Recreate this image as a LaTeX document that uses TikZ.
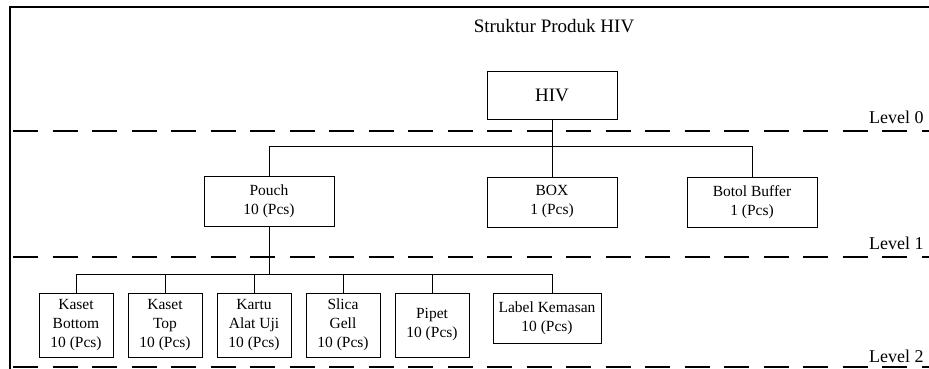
\documentclass[tikz,border=0pt]{standalone}
\usepackage{fontspec}
\setmainfont{Liberation Serif}
\begin{document}
\begin{tikzpicture}[x=1pt,y=-1pt,
 box/.style={draw, line width=0.9pt, inner sep=0pt, align=center, font=\fontsize{15.5}{19}\selectfont},
 big/.style={box, minimum width=130pt, minimum height=50pt},
 small/.style={box, minimum width=74pt, minimum height=64pt},
 conn/.style={line width=0.9pt},
 lvl/.style={dash pattern=on 25pt off 14.5pt, line width=1.8pt},
 lvltext/.style={anchor=base west, inner sep=0pt, font=\fontsize{18}{20}\selectfont},
 frameline/.style={line width=2pt}]
\useasboundingbox (0,0) rectangle (929,369);
% frame
\coordinate (tl) at (10,7);
\coordinate (tr) at (929,7);
\coordinate (bl) at (10,369);
\draw[frameline] (tr) -- (tl) -- (bl);
% level dashed lines
\draw[lvl] (13,131) -- (929,131);
\draw[lvl] (13,257) -- (929,257);
\draw[lvl] (13,367) -- (929,367);
\node[lvltext] (l0) at (869,123) {Level 0};
\node[lvltext] (l1) at (869,249) {Level 1};
\node[lvltext] (l2) at (869,362) {Level 2};
% title
\node[font=\fontsize{19}{22}\selectfont, anchor=base, inner sep=0pt] (title) at (554,33) {Struktur Produk HIV};
% level 0
\node[box, minimum width=130pt, minimum height=48pt, font=\fontsize{19}{22}\selectfont] (hiv) at (552,95) {HIV};
% level 1
\node[big] (pouch) at (269,201.5) {Pouch\\10 (Pcs)};
\node[big] (boxn) at (552,202) {BOX\\1 (Pcs)};
\node[big] (buffer) at (752,202) {Botol Buffer\\1 (Pcs)};
\draw[conn] (hiv.south) -- (boxn.north);
\draw[conn] (pouch.north) -- ++(0,-30) -| (buffer.north);
% level 2
\node[small] (kb) at (76,325) {Kaset\\Bottom\\10 (Pcs)};
\node[small] (kt) at (165,325) {Kaset\\Top\\10 (Pcs)};
\node[small] (ku) at (254,325) {Kartu\\Alat Uji\\10 (Pcs)};
\node[small] (sg) at (343,325) {Slica\\Gell\\10 (Pcs)};
\node[small] (pp) at (432,325) {Pipet\\10 (Pcs)};
\node[box, minimum width=108pt, minimum height=50pt] (lk) at (547,318) {Label Kemasan\\10 (Pcs)};
\draw[conn] (pouch.south) -- ++(0,47.5) coordinate (bus2);
\draw[conn] (kb.north) -- (kb.north |- bus2) -| ([xshift=5pt]lk.north);
\draw[conn] (kt.north) -- (kt.north |- bus2);
\draw[conn] (ku.north) -- (ku.north |- bus2);
\draw[conn] (sg.north) -- (sg.north |- bus2);
\draw[conn] (pp.north) -- (pp.north |- bus2);
\end{tikzpicture}
\end{document}
